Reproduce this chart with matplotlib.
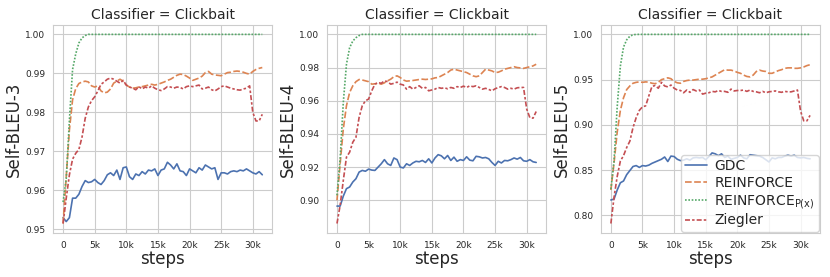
import numpy as np
import matplotlib.pyplot as plt
import seaborn as sns
from matplotlib.ticker import FuncFormatter

steps = list(range(0, 32000, 500))

# Self-BLEU-3
gdc_3 = [0.953, 0.952, 0.953, 0.958, 0.958, 0.959, 0.961, 0.9625, 0.962, 0.9622, 0.9628, 0.962, 0.9615, 0.9625,
         0.964, 0.9645, 0.9638, 0.9652, 0.9628, 0.9658, 0.9660, 0.9635, 0.9628, 0.9642, 0.9638, 0.9648, 0.9642,
         0.9652, 0.9650, 0.9655, 0.9638, 0.9652, 0.9655, 0.9672, 0.9665, 0.9655, 0.9668, 0.965, 0.9648, 0.9638,
         0.9655, 0.965, 0.9645, 0.9658, 0.9652, 0.9665, 0.966, 0.9655, 0.9658, 0.9628, 0.9645, 0.9645, 0.9642,
         0.9648, 0.9650, 0.9648, 0.9652, 0.9650, 0.9655, 0.9650, 0.9645, 0.9642, 0.9648, 0.964]
rf_3 = [0.9515, 0.9635, 0.9755, 0.9832, 0.9861, 0.9874, 0.9878, 0.988, 0.9878, 0.9868, 0.9865, 0.9868, 0.9855, 0.985,
        0.9852, 0.986, 0.9875, 0.988, 0.9885, 0.988, 0.987, 0.9865, 0.9862, 0.9863, 0.9865, 0.9866, 0.9868, 0.987,
        0.9872, 0.987, 0.9872, 0.9875, 0.9878, 0.9882, 0.9885, 0.989, 0.9895, 0.9898, 0.9897, 0.9893, 0.9888,
        0.9882, 0.9885, 0.9888, 0.9893, 0.9902, 0.9905, 0.9898, 0.9896, 0.9895, 0.9894, 0.9898, 0.9902, 0.9903,
        0.9905, 0.9906, 0.9905, 0.9903, 0.9900, 0.9898, 0.9905, 0.991, 0.9913, 0.9915]
rfp_3 = [0.957, 0.963, 0.978, 0.991, 0.995, 0.9978, 0.9991, 0.9997] + [1.0] * 56
zg_3 = [0.9515, 0.958, 0.964, 0.968, 0.9695, 0.9705, 0.9737, 0.9785, 0.9814, 0.983, 0.984, 0.9855, 0.9872, 0.9878,
        0.9885, 0.9888, 0.9885, 0.988, 0.9875, 0.9882, 0.987, 0.9865, 0.9862, 0.9858, 0.9866, 0.986, 0.9865,
        0.9862, 0.9868, 0.9862, 0.9858, 0.9856, 0.986, 0.9866, 0.9865, 0.9862, 0.9865, 0.9864, 0.9860, 0.9866,
        0.9868, 0.9866, 0.9868, 0.987, 0.986, 0.9862, 0.9865, 0.9858, 0.9855, 0.986, 0.9866, 0.9868, 0.9865,
        0.9862, 0.986, 0.9858, 0.9857, 0.986, 0.9862, 0.9868, 0.9800, 0.9778, 0.9778, 0.9795]

# Self-BLEU-4
gdc_4 = [0.8965, 0.8965, 0.9025, 0.907, 0.908, 0.911, 0.913, 0.917, 0.918, 0.9175, 0.9188, 0.9182, 0.918, 0.920,
         0.922, 0.9245, 0.922, 0.921, 0.9255, 0.9245, 0.920, 0.9195, 0.922, 0.921, 0.9225, 0.9235, 0.9232, 0.924,
         0.9228, 0.925, 0.9225, 0.9255, 0.9275, 0.9268, 0.925, 0.927, 0.924, 0.926, 0.9235, 0.9245, 0.924, 0.9262,
         0.9242, 0.9238, 0.9265, 0.9262, 0.9255, 0.9258, 0.925, 0.9228, 0.921, 0.9235, 0.9225, 0.924, 0.9238,
         0.9245, 0.9255, 0.9248, 0.9258, 0.9238, 0.9235, 0.9245, 0.9232, 0.9228]
rf_4 = [0.900, 0.922, 0.943, 0.957, 0.965, 0.969, 0.9715, 0.9728, 0.9725, 0.972, 0.9715, 0.970, 0.9702, 0.9705,
        0.970, 0.9708, 0.972, 0.973, 0.9745, 0.975, 0.974, 0.9725, 0.9718, 0.972, 0.9722, 0.9725, 0.9728, 0.973,
        0.9728, 0.973, 0.9732, 0.9738, 0.974, 0.975, 0.976, 0.977, 0.9785, 0.979, 0.9785, 0.978, 0.9775, 0.977,
        0.976, 0.975, 0.9745, 0.975, 0.977, 0.979, 0.9785, 0.978, 0.977, 0.9772, 0.978, 0.979, 0.9795, 0.980,
        0.9805, 0.980, 0.9798, 0.9795, 0.980, 0.9805, 0.981, 0.982]
rfp_4 = [0.903, 0.925, 0.959, 0.982, 0.992, 0.996, 0.998, 0.9993] + [1.0] * 56
zg_4 = [0.886, 0.897, 0.912, 0.926, 0.929, 0.935, 0.938, 0.950, 0.957, 0.960, 0.961, 0.966, 0.970, 0.971,
        0.9705, 0.972, 0.9715, 0.970, 0.9705, 0.9712, 0.970, 0.9695, 0.967, 0.9685, 0.967, 0.968, 0.969, 0.9675,
        0.968, 0.966, 0.9665, 0.967, 0.968, 0.9675, 0.9678, 0.9672, 0.968, 0.9675, 0.9685, 0.968, 0.9688, 0.968,
        0.969, 0.9685, 0.969, 0.968, 0.967, 0.9675, 0.9668, 0.966, 0.9672, 0.968, 0.9685, 0.968, 0.967, 0.9675,
        0.967, 0.9678, 0.968, 0.968, 0.955, 0.9498, 0.9495, 0.9535]

# Self-BLEU-5
gdc_5 = [0.817, 0.818, 0.828, 0.836, 0.838, 0.845, 0.8495, 0.854, 0.855, 0.853, 0.855, 0.8545, 0.8555, 0.8575,
         0.859, 0.8605, 0.862, 0.8645, 0.8595, 0.8655, 0.865, 0.862, 0.8605, 0.861, 0.8625, 0.861, 0.8635, 0.864,
         0.8635, 0.864, 0.8615, 0.865, 0.869, 0.868, 0.866, 0.868, 0.864, 0.8655, 0.862, 0.863, 0.864, 0.8665,
         0.8635, 0.8625, 0.867, 0.8665, 0.866, 0.8655, 0.864, 0.8615, 0.859, 0.8635, 0.8625, 0.864, 0.864, 0.8655,
         0.8665, 0.8655, 0.8665, 0.864, 0.8635, 0.864, 0.863, 0.8625]
rf_5 = [0.828, 0.858, 0.892, 0.916, 0.930, 0.939, 0.943, 0.946, 0.947, 0.9475, 0.947, 0.9475, 0.9472, 0.946,
        0.9455, 0.947, 0.950, 0.951, 0.952, 0.951, 0.948, 0.9465, 0.946, 0.948, 0.949, 0.9495, 0.9495, 0.950,
        0.9505, 0.9505, 0.951, 0.952, 0.953, 0.955, 0.957, 0.959, 0.961, 0.9605, 0.9605, 0.9595, 0.958, 0.957,
        0.955, 0.9535, 0.953, 0.955, 0.959, 0.9605, 0.9595, 0.959, 0.957, 0.957, 0.9585, 0.960, 0.961, 0.9625,
        0.963, 0.963, 0.9625, 0.9625, 0.963, 0.964, 0.9655, 0.9665]
rfp_5 = [0.829, 0.860, 0.920, 0.965, 0.986, 0.994, 0.998, 0.9995] + [1.0] * 56
zg_5 = [0.791, 0.820, 0.843, 0.860, 0.866, 0.875, 0.882, 0.897, 0.908, 0.916, 0.920, 0.921, 0.932, 0.9425,
        0.9435, 0.9405, 0.947, 0.943, 0.942, 0.944, 0.9405, 0.9385, 0.938, 0.9355, 0.9385, 0.936, 0.939, 0.9375,
        0.9385, 0.934, 0.935, 0.9355, 0.937, 0.9365, 0.938, 0.937, 0.937, 0.936, 0.9395, 0.9375, 0.938, 0.938,
        0.9385, 0.937, 0.9385, 0.937, 0.9365, 0.9355, 0.937, 0.9355, 0.9365, 0.937, 0.9375, 0.9365, 0.936, 0.937,
        0.9365, 0.9365, 0.9375, 0.9385, 0.915, 0.9045, 0.9045, 0.9105]

labels = ["GDC", "REINFORCE", r"REINFORCE$_{\mathregular{P(x)}}$", "Ziegler"]
metrics = ["Self-BLEU-3", "Self-BLEU-4", "Self-BLEU-5"]
panels = [[gdc_3, rf_3, rfp_3, zg_3], [gdc_4, rf_4, rfp_4, zg_4], [gdc_5, rf_5, rfp_5, zg_5]]
yticks = [np.arange(0.95, 1.001, 0.01), np.arange(0.90, 1.001, 0.02), np.arange(0.80, 1.001, 0.05)]

sns.set_style("whitegrid")
plt.rcParams['font.family'] = ['DejaVu Sans']
colors = sns.color_palette("deep")
dashes = ["", (4, 1.5), (1, 1), (3, 1.25, 1.5, 1.25)]

fig, axes = plt.subplots(1, 3, figsize=(8.3, 2.77), dpi=100)
plt.subplots_adjust(left=0.064, right=0.988, bottom=0.159, top=0.910, wspace=0.25)

for i, ax in enumerate(axes):
    for j in range(4):
        line, = ax.plot(steps, panels[i][j], color=colors[j], lw=1.2, label=labels[j])
        if dashes[j] != "":
            line.set_dashes(dashes[j])
    ax.set_title("Classifier = Clickbait", fontsize=10, pad=4)
    ax.set_ylabel(metrics[i], fontsize=12, labelpad=2)
    ax.set_xlabel("steps", fontsize=12, labelpad=0)
    ax.set_xticks([0, 5000, 10000, 15000, 20000, 25000, 30000])
    ax.xaxis.set_major_formatter(FuncFormatter(lambda v, p: "0" if v == 0 else "%dk" % (v / 1000)))
    ax.set_yticks(yticks[i])
    ax.yaxis.set_major_formatter(FuncFormatter(lambda v, p: "%.2f" % v))
    ax.tick_params(labelsize=6.5, pad=2)
    ax.margins(x=0.05, y=0.05)

axes[2].legend(loc="lower right", fontsize=10, borderaxespad=0.1, handlelength=1.6,
               handletextpad=0.5, labelspacing=0.2, borderpad=0.3)

plt.savefig("out.png", dpi=100)
